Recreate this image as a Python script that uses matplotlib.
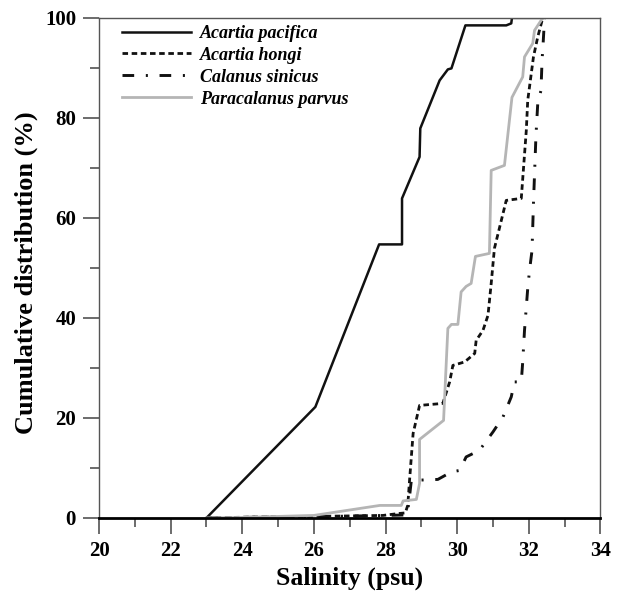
import matplotlib.pyplot as plt
from matplotlib.ticker import MultipleLocator

# salinity (psu) / cumulative distribution (%)
pacifica_x = [23.0, 26.04, 27.82, 28.46, 28.46, 28.95, 28.97, 29.51, 29.74, 29.84,
              30.23, 31.37, 31.51, 31.53, 32.39]
pacifica_y = [0.0, 22.2, 54.7, 54.7, 63.9, 72.2, 77.9, 87.5, 89.7, 89.9,
              98.5, 98.5, 98.9, 100.0, 100.0]

hongi_x = [23.0, 24.5, 26.0, 27.0, 27.93, 28.39, 28.55, 28.62, 28.67, 28.77, 28.95,
           29.6, 29.79, 29.88, 30.21, 30.49, 30.53, 30.72, 30.86, 30.95, 31.04,
           31.37, 31.79, 31.93, 31.97, 32.13, 32.25, 32.39]
hongi_y = [0.0, 0.2, 0.3, 0.4, 0.5, 0.9, 1.0, 2.5, 7.5, 16.9, 22.5,
           22.9, 27.2, 30.5, 31.2, 32.9, 35.5, 37.5, 40.5, 46.9, 53.9,
           63.5, 63.9, 77.5, 83.5, 92.2, 96.2, 100.0]

sinicus_x = [23.0, 25.0, 26.5, 28.0, 28.6, 28.65, 28.72, 29.46, 29.84, 30.07, 30.25,
             30.62, 31.0, 31.28, 31.51, 31.6, 31.79, 31.83, 31.88, 31.97, 32.02,
             32.09, 32.13, 32.2, 32.25, 32.34, 32.37, 32.4, 32.44]
sinicus_y = [0.0, 0.2, 0.3, 0.5, 0.6, 3.0, 7.5, 7.7, 9.2, 9.5, 12.2,
             13.5, 17.2, 20.2, 24.2, 27.2, 27.2, 31.2, 37.5, 45.9, 49.5,
             53.5, 62.9, 76.5, 82.9, 85.5, 91.5, 94.9, 100.0]

parvus_x = [23.0, 24.0, 26.0, 27.84, 28.44, 28.49, 28.86, 28.95, 28.95, 29.62, 29.74,
            29.84, 30.02, 30.11, 30.25, 30.39, 30.51, 30.9, 30.95, 31.32, 31.53,
            31.83, 31.88, 32.11, 32.16, 32.39]
parvus_y = [0.0, 0.1, 0.5, 2.5, 2.5, 3.4, 3.7, 6.9, 15.7, 19.5, 37.9,
            38.7, 38.7, 45.2, 46.3, 46.9, 52.3, 52.9, 69.5, 70.5, 84.1,
            88.2, 92.2, 94.9, 97.5, 100.0]

species = ["Acartia pacifica", "Acartia hongi", "Calanus sinicus", "Paracalanus parvus"]

serif = "Liberation Serif"

fig = plt.figure(figsize=(6.19, 5.96), dpi=100)
ax = fig.add_axes([0.160, 0.131, 0.810, 0.839])

ax.plot(pacifica_x, pacifica_y, color="#111111", lw=1.8, label=species[0])
ax.plot(hongi_x, hongi_y, color="#111111", lw=2.0, linestyle=(0, (2.0, 1.3)),
        label=species[1])
ax.plot(sinicus_x, sinicus_y, color="#111111", lw=2.1,
        linestyle=(0, (4.0, 4.0, 0.7, 4.0)), label=species[2])
ax.plot(parvus_x, parvus_y, color="#b5b5b5", lw=2.0, label=species[3])

ax.set_xlim(20, 34)
ax.set_ylim(0, 100)
ax.xaxis.set_major_locator(MultipleLocator(2))
ax.xaxis.set_minor_locator(MultipleLocator(1))
ax.yaxis.set_major_locator(MultipleLocator(20))
ax.yaxis.set_minor_locator(MultipleLocator(10))

ax.tick_params(which="both", direction="out", color="#444444", width=1.1,
               top=False, right=False)
ax.tick_params(which="major", length=11.5, pad=5)
ax.tick_params(which="minor", length=6.5)
for lab in ax.get_xticklabels() + ax.get_yticklabels():
    lab.set_fontfamily(serif)
    lab.set_fontweight("bold")
    lab.set_fontsize(15)

for side in ["left", "top", "right"]:
    ax.spines[side].set_color("#555555")
    ax.spines[side].set_linewidth(1.0)
ax.spines["bottom"].set_color("black")
ax.spines["bottom"].set_linewidth(2.0)

ax.set_xlabel("Salinity (psu)", fontfamily=serif, fontweight="bold", fontsize=18.5)
ax.set_ylabel("Cumulative distribution (%)", fontfamily=serif, fontweight="bold",
              fontsize=19)
ax.yaxis.set_label_coords(-0.122, 0.491)

ax.legend(loc="upper left", frameon=False, handlelength=3.8, handletextpad=0.5,
          labelspacing=0.27, borderaxespad=0.0, borderpad=0.0,
          bbox_to_anchor=(0.046, 0.986),
          prop={"family": serif, "weight": "bold", "style": "italic", "size": 13})

plt.savefig("out.png", dpi=100)
